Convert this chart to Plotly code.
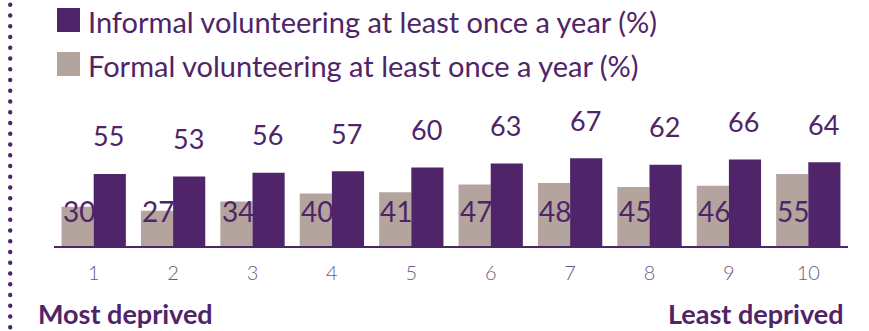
import plotly.graph_objects as go

# Deprivation deciles, 1 = most deprived, 10 = least deprived
deciles = ["1", "2", "3", "4", "5", "6", "7", "8", "9", "10"]
formal = [30, 27, 34, 40, 41, 47, 48, 45, 46, 55]
informal = [55, 53, 56, 57, 60, 63, 67, 62, 66, 64]

formal_name = "Formal volunteering at least once a year (%)"
informal_name = "Informal volunteering at least once a year (%)"

PURPLE = "#4f2468"
GREY = "#b3a59e"
TICK = "#6e5a82"
FONT = "Lato"

W, H = 869, 331
fig = go.Figure()
fig.add_trace(go.Bar(x=deciles, y=formal, name=formal_name, marker_color=GREY,
                     marker_line_width=0, showlegend=False, hoverinfo="skip"))
fig.add_trace(go.Bar(x=deciles, y=informal, name=informal_name, marker_color=PURPLE,
                     marker_line_width=0, showlegend=False, hoverinfo="skip"))

annotations = []
# informal value labels floating above their bars (x given as category index)
for i, v in enumerate(informal):
    annotations.append(dict(x=i, y=v, text=str(v), showarrow=False, xref="x", yref="y",
                            xshift=15, yshift=38, yanchor="middle", xanchor="center",
                            font=dict(family=FONT, size=27, color=PURPLE)))
# formal value labels sit low inside the grey bars
for i, v in enumerate(formal):
    annotations.append(dict(x=i, y=0, text=str(v), showarrow=False, xref="x", yref="y",
                            xshift=-33, yshift=35, yanchor="middle", xanchor="left",
                            font=dict(family=FONT, size=28, color=PURPLE)))

# legend rows
shapes = []
for i, (name, col) in enumerate([(informal_name, PURPLE), (formal_name, GREY)]):
    top = 8 + i * 44
    shapes.append(dict(type="rect", xref="paper", yref="paper",
                       x0=(57 - 54) / 794, x1=(80 - 54) / 794,
                       y0=(246 - top) / 146, y1=(246 - top - 24) / 146,
                       fillcolor=col, line_width=0, layer="above"))
    annotations.append(dict(x=(86 - 54) / 794, y=(246 - top - 13) / 146, xref="paper", yref="paper",
                            text=name, showarrow=False, xanchor="left", yanchor="middle",
                            font=dict(family=FONT, size=29, color=PURPLE)))

# end labels under the axis
annotations.append(dict(x=(36 - 54) / 794, y=(246 - 313) / 146, xref="paper", yref="paper",
                        text="<b>Most deprived</b>", showarrow=False, xanchor="left", yanchor="middle",
                        font=dict(family=FONT, size=27, color=PURPLE)))
annotations.append(dict(x=(846 - 54) / 794, y=(246 - 313) / 146, xref="paper", yref="paper",
                        text="<b>Least deprived</b>", showarrow=False, xanchor="right", yanchor="middle",
                        font=dict(family=FONT, size=27, color=PURPLE)))

# dotted rule down the left edge
for k in range(31):
    cy = 4.7 + k * 10.75
    if cy > H:
        break
    shapes.append(dict(type="circle", xref="paper", yref="paper",
                       x0=(8 - 54) / 794, x1=(12.4 - 54) / 794,
                       y0=(246 - cy + 2.2) / 146, y1=(246 - cy - 2.2) / 146,
                       fillcolor=PURPLE, line_width=0, layer="above"))

fig.update_layout(
    width=W, height=H,
    margin=dict(l=54, r=21, t=100, b=85),
    paper_bgcolor="white", plot_bgcolor="white",
    barmode="group", bargap=0.19, bargroupgap=0,
    annotations=annotations, shapes=shapes,
    xaxis=dict(range=[-0.5, len(deciles) - 0.5], showline=True, linecolor=PURPLE, linewidth=2,
               showgrid=False, ticks="outside", ticklen=8, tickcolor="rgba(0,0,0,0)",
               tickfont=dict(family=FONT, size=20, color=TICK, weight=300),
               fixedrange=True),
    yaxis=dict(range=[0, 146 / 1.31], visible=False, fixedrange=True),
)

fig.write_html("out.html")
